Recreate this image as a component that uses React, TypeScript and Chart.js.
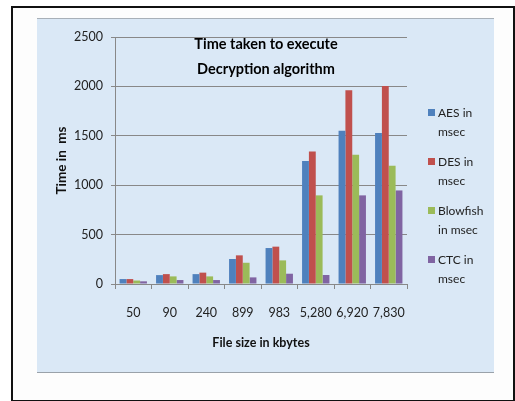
import React, { useEffect, useRef } from "react";
import { Chart, registerables } from "chart.js";

Chart.register(...registerables);

const categories = ["50", "90", "240", "899", "983", "5,280", "6,920", "7,830"];
const aes = [50, 90, 100, 253, 364, 1245, 1552, 1528];
const des = [50, 100, 115, 290, 378, 1342, 1962, 2005];
const blowfish = [35, 77, 77, 215, 239, 897, 1309, 1197];
const ctc = [27, 40, 40, 67, 104, 91, 897, 947];
const seriesNames = [["AES in", "msec"], ["DES in", "msec"], ["Blowfish", "in msec"], ["CTC in", "msec"]];
const seriesColors = ["#4F81BD", "#C0504D", "#9BBB59", "#8064A2"];
const titleLines = ["Time taken to execute", "Decryption algorithm"];
const yTicks = [0, 500, 1000, 1500, 2000, 2500];

const FONT = "Lato, 'Liberation Sans', sans-serif";

const overlayPlugin = {
  id: "overlay",
  afterDraw(chart: any) {
    const ctx = chart.ctx;
    const area = chart.chartArea;
    ctx.save();
    // title
    ctx.font = `bold 14.5px ${FONT}`;
    ctx.fillStyle = "#000";
    ctx.textAlign = "center";
    ctx.textBaseline = "middle";
    const cx = (area.left + area.right) / 2 + 5;
    titleLines.forEach((t, i) => ctx.fillText(t, cx, area.top + 7 + i * 25));
    // legend
    const lx = area.right + 21;
    ctx.font = `12px ${FONT}`;
    ctx.textAlign = "left";
    seriesNames.forEach((lines, i) => {
      const y0 = 113 + i * 49;
      ctx.fillStyle = seriesColors[i];
      ctx.fillRect(lx, y0 - 4, 7, 7);
      ctx.fillStyle = "#222";
      lines.forEach((l, j) => ctx.fillText(l, lx + 10, y0 + j * 19));
    });
    ctx.restore();
  },
};

export default function App() {
  const ref = useRef<HTMLCanvasElement | null>(null);
  useEffect(() => {
    if (!ref.current) return;
    const data = [aes, des, blowfish, ctc];
    const chart = new Chart(ref.current, {
      type: "bar",
      data: {
        labels: categories,
        datasets: data.map((d, i) => ({
          label: seriesNames[i].join(" "),
          data: d,
          backgroundColor: seriesColors[i],
          borderWidth: 0,
          categoryPercentage: 0.75,
          barPercentage: 1.0,
        })),
      },
      options: {
        animation: false,
        responsive: false,
        maintainAspectRatio: false,
        layout: { padding: { left: 0, top: 37, right: 108, bottom: 0 } },
        plugins: { legend: { display: false }, title: { display: false }, tooltip: { enabled: false } },
        scales: {
          x: {
            afterFit: (s: any) => { s.height = 117; },
            grid: { offset: true, drawOnChartArea: false, drawTicks: true, tickLength: 5, color: "#888" },
            border: { display: true, color: "#888" },
            ticks: { padding: 16, color: "#222", font: { family: FONT, size: 12.5 }, maxRotation: 0, autoSkip: false },
            title: {
              display: true,
              text: "File size in kbytes",
              color: "#111",
              font: { family: FONT, size: 12.5, weight: "bold" },
              padding: { top: 0, bottom: 51 },
            },
          },
          y: {
            min: 0,
            max: 2500,
            afterFit: (s: any) => { s.width = 115; },
            afterBuildTicks: (s: any) => { s.ticks = yTicks.map((v) => ({ value: v })); },
            grid: { color: "#888", tickLength: 4, lineWidth: 1 },
            border: { display: true, color: "#888" },
            ticks: {
              padding: 8,
              color: "#222",
              font: { family: FONT, size: 12.5 },
              callback: (v: any) => String(v),
            },
            title: {
              display: true,
              text: "Time in  ms",
              color: "#111",
              font: { family: FONT, size: 13.5, weight: "bold" },
              padding: { top: 54, bottom: 0 },
            },
          },
        },
      },
      plugins: [overlayPlugin],
    });
    return () => chart.destroy();
  }, []);

  return (
    <div style={{ position: "absolute", left: 0, top: 0, width: 515, height: 401, overflow: "hidden" }}>
      <div
        style={{
          position: "absolute", left: 11, top: 6, width: 500, height: 392,
          border: "2px solid #111", background: "#fdfdfd",
        }}
      />
      <div
        style={{
          position: "absolute", left: 37, top: 18, width: 457, height: 353,
          background: "#dae8f6", borderTop: "1px solid #a8b0b8", borderBottom: "1px solid #9aa2aa",
        }}
      />
      <canvas ref={ref} width={515} height={401} style={{ position: "absolute", left: 0, top: 0, width: 515, height: 401 }} />
    </div>
  );
}
